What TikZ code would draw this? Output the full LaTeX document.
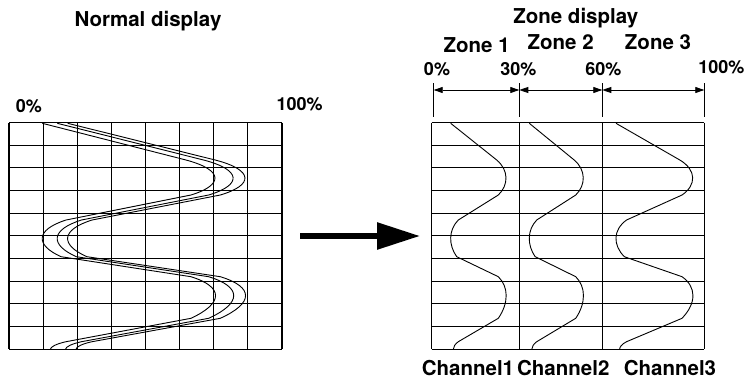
\documentclass[tikz,border=0pt]{standalone}
\usepackage{fontspec}
\setmainfont{TeX Gyre Heros}
\usetikzlibrary{arrows.meta}
\usetikzlibrary{positioning}
\tikzstyle{title} = [font=\fontsize{20.5}{24}\selectfont\bfseries, anchor=base, inner sep=0pt]
\tikzstyle{pct} = [font=\fontsize{18}{21}\selectfont\bfseries, anchor=base, inner sep=0pt]
\tikzstyle{gridline} = [line width=1.1pt]
\tikzstyle{trace} = [line width=0.9pt]
\tikzstyle{tick} = [line width=1.2pt]
\tikzstyle{span} = [line width=0.8pt, {Triangle[length=9pt,width=6pt]}-{Triangle[length=9pt,width=6pt]}]
\tikzstyle{bigarrow} = [line width=5.7pt, -{Triangle[length=43pt,width=26pt]}]
\newcommand{\wavecurve}[2]{
 \begin{scope}[shift={(#1,0)}, xscale=#2]
  \draw[trace] (0,123.3) -- (46,160) .. controls (58.1,170) and (58.1,185) .. (47.6,195)
   -- (7.6,220) .. controls (-2.3,230) and (-2.3,245) .. (6,256.7)
   -- (47.6,276.7) .. controls (58.1,287) and (58.1,303) .. (47.6,318.3)
   -- (7.6,341.7) .. controls (4.3,344) and (2.6,347) .. (2.6,349.3);
 \end{scope}}

\begin{document}
\begin{tikzpicture}[x=1pt, y=-1pt]
 \useasboundingbox (0,0) rectangle (747,378);

 \node (normtitle) [title] at (148,26.7) {Normal display};
 \node (normlow) [pct] at (28.8,112.7) {0\%};
 \node (normhigh) [pct] at (299.7,110) {100\%};

 \foreach \k in {0,...,10}
  \draw[gridline] (9,{122.5+\k*22.67}) -- (282,{122.5+\k*22.67});
 \foreach \k in {0,...,8}
  \draw[gridline] ({9+\k*34.125},122.5) -- ({9+\k*34.125},349.2);
 \wavecurve{42.3}{3.123}
 \wavecurve{57.3}{3.18}
 \wavecurve{67.7}{3.206}

 \coordinate (arrowtail) at (300,236);
 \coordinate (arrowtip) at (420,236);
 \draw[bigarrow] (arrowtail) -- (arrowtip);

 \node (zonetitle) [title] at (575.8,23.5) {Zone display};
 \node (zone1) [title] at (476.7,52.7) {Zone 1};
 \node (zone2) [title] at (560.7,49.3) {Zone 2};
 \node (zone3) [title] at (658,49.3) {Zone 3};
 \node (p0) [pct] at (437,75) {0\%};
 \node (p30) [pct] at (518.3,75) {30\%};
 \node (p60) [pct] at (603.3,75) {60\%};
 \node (p100) [pct] at (721.3,73.3) {100\%};

 \foreach \x in {433.7,519.3,602.3,704.3}
  \draw[tick] (\x,83) -- (\x,117);
 \coordinate (t0) at (433.7,90);
 \coordinate (t30) at (519.3,90);
 \coordinate (t60) at (602.3,90);
 \coordinate (t100) at (704.3,90);
 \draw[span] (t0) -- (t30);
 \draw[span] (t30) -- (t60);
 \draw[span] (t60) -- (t100);

 \foreach \k in {0,...,10}
  \draw[gridline] (431.7,{122.5+\k*22.67}) -- (704.3,{122.5+\k*22.67});
 \foreach \x in {431.7,519.3,602.3,704.3}
  \draw[gridline] (\x,122.5) -- (\x,349.2);
 \wavecurve{450.7}{1}
 \wavecurve{529.3}{0.976}
 \wavecurve{616}{1.387}

 \node (chan1) [title] at (468,375) {Channel1};
 \node (chan2) [title] at (563.3,375) {Channel2};
 \node (chan3) [title] at (670,375) {Channel3};
\end{tikzpicture}
\end{document}
